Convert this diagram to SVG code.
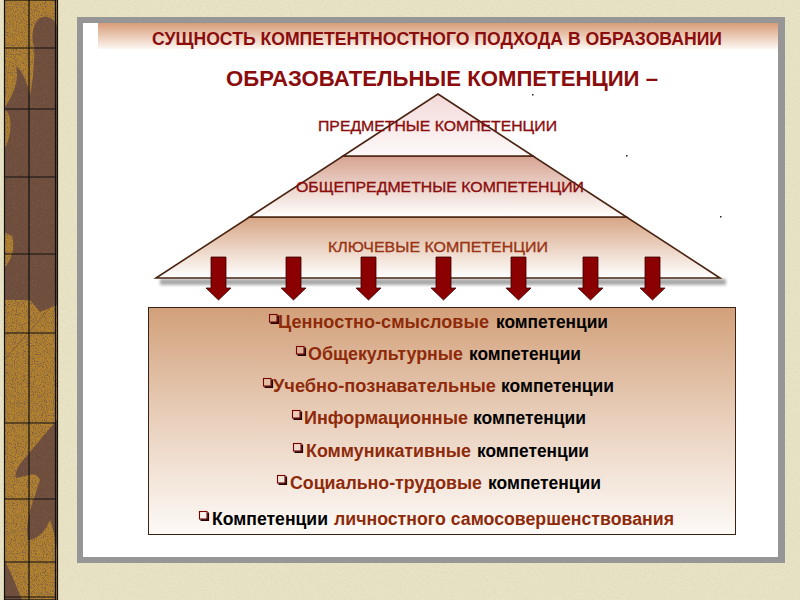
<svg xmlns="http://www.w3.org/2000/svg" width="800" height="600" viewBox="0 0 800 600">
<defs>
<style>
.t{font-family:"Liberation Sans",Arial,sans-serif;font-weight:bold}
.lay{font-family:"Liberation Sans",Arial,sans-serif;font-size:15px;stroke-width:0.35px}
.red{fill:#8b0c0c}
.brn{fill:#8e2a0a}
.blk{fill:#000}
.it{font-size:18px}
.bul{fill:none;stroke:#7a0000;stroke-width:1.1}
.bsh{fill:none;stroke:#2a0000;stroke-width:1.8}
.arr{fill:#8b0000;stroke:#3a0000;stroke-width:0.8}
.pyr{stroke:#4a2412;stroke-width:1.6;stroke-linejoin:miter}
.grid{stroke:#111;stroke-width:1.2;fill:none}
</style>
<linearGradient id="gTitle" x1="0" y1="0" x2="0" y2="1">
<stop offset="0" stop-color="#d79c78"/><stop offset="1" stop-color="#fdf7f2"/>
</linearGradient>
<linearGradient id="gTop" x1="0" y1="0" x2="0" y2="1">
<stop offset="0" stop-color="#f4d9d9"/><stop offset="1" stop-color="#fdf8f8"/>
</linearGradient>
<linearGradient id="gMid" x1="0" y1="0" x2="0" y2="1">
<stop offset="0" stop-color="#d6a391"/><stop offset="1" stop-color="#ffffff"/>
</linearGradient>
<linearGradient id="gBot" x1="0" y1="0" x2="0" y2="1">
<stop offset="0" stop-color="#d6a584"/><stop offset="1" stop-color="#ffffff"/>
</linearGradient>
<linearGradient id="gBox" x1="0" y1="0" x2="0" y2="1">
<stop offset="0" stop-color="#d2a07a"/><stop offset="0.5" stop-color="#e9d0bc"/><stop offset="1" stop-color="#fdfaf7"/>
</linearGradient>
<filter id="speck" x="0" y="0" width="1" height="1">
<feTurbulence type="fractalNoise" baseFrequency="0.9" numOctaves="2" seed="4" result="n"/>
<feColorMatrix in="n" type="matrix" values="0 0 0 0 0.18  0 0 0 0 0.1  0 0 0 0 0.06  3.2 0 0 0 -1.5"/>
<feComposite in2="SourceGraphic" operator="in"/>
</filter>
<filter id="paper" x="0" y="0" width="1" height="1">
<feTurbulence type="fractalNoise" baseFrequency="0.6" numOctaves="3" seed="7" result="n"/>
<feColorMatrix in="n" type="matrix" values="0 0 0 0 0.6  0 0 0 0 0.55  0 0 0 0 0.4  2 0 0 0 -0.9"/>
<feComposite in2="SourceGraphic" operator="in"/>
</filter>
<filter id="blur" x="-0.1" y="-1" width="1.2" height="3">
<feGaussianBlur stdDeviation="1.4"/>
</filter>
</defs>

<!-- background -->
<rect x="0" y="0" width="800" height="600" fill="#e8e3c5"/>
<rect x="0" y="0" width="800" height="600" fill="#000" filter="url(#paper)" opacity="0.35"/>

<!-- left decorative strip -->
<g id="strip">
<rect x="4" y="0" width="53" height="600" fill="#b3822f"/>
<path d="M40 18 C48 14 57 20 57 28 L57 305 L40 312 L30 300 L4 300 L4 268 C10 262 16 250 12 236 L4 232 L4 150 C10 140 14 120 6 110 L4 108 C12 98 20 80 16 66 C22 70 28 84 30 96 C33 80 35 62 34 46 C30 36 34 22 40 18 Z" fill="#6e4c3c"/>
<path d="M57 420 C48 430 40 440 30 452 C24 460 14 468 16 478 C28 476 36 470 40 480 C34 500 24 520 28 540 C38 540 46 530 50 520 C54 530 56 545 57 548 Z" fill="#6e4c3c"/>
<path d="M4 560 C10 570 16 585 22 600 L4 600 Z" fill="#6e4c3c"/>
<path d="M4 360 L57 300" stroke="#8a6030" stroke-width="1" fill="none"/>
<rect x="4" y="0" width="53" height="600" fill="#000" filter="url(#speck)"/>
<rect x="4.5" y="0" width="51" height="600" class="grid"/>
<line x1="57.5" y1="0" x2="57.5" y2="600" class="grid"/>
<line x1="29" y1="0" x2="29" y2="600" class="grid"/>
<path d="M4 48H56M4 109H56M4 177H56M4 254H56M4 333H56M4 423H56M4 499H56M4 562H56M4 597H56" class="grid"/>
</g>

<!-- slide panel -->
<g id="panel">
<rect x="77" y="17" width="708" height="546" fill="#969696"/>
<rect x="83" y="23" width="695" height="534" fill="#ffffff"/>
</g>

<!-- title -->
<g id="title">
<rect x="98" y="23" width="680" height="26" fill="url(#gTitle)"/>
<text class="t red" x="152" y="45" font-size="17.5" textLength="570" lengthAdjust="spacingAndGlyphs">СУЩНОСТЬ КОМПЕТЕНТНОСТНОГО ПОДХОДА В ОБРАЗОВАНИИ</text>
</g>
<g id="subtitle">
<text class="t red" x="226" y="86" font-size="21.5" textLength="432" lengthAdjust="spacingAndGlyphs">ОБРАЗОВАТЕЛЬНЫЕ КОМПЕТЕНЦИИ –</text>
</g>

<!-- pyramid -->
<rect x="160" y="279" width="566" height="6" fill="#a8a8a8" filter="url(#blur)"/>
<g id="layer-key">
<polygon class="pyr" points="249.5,217 626.5,217 720,278 156,278" fill="url(#gBot)"/>
<text class="lay" x="328" y="252" fill="#9a3414" stroke="#9a3414" textLength="220" lengthAdjust="spacingAndGlyphs">КЛЮЧЕВЫЕ КОМПЕТЕНЦИИ</text>
</g>
<g id="layer-general">
<polygon class="pyr" points="343,156 533,156 626.5,217 249.5,217" fill="url(#gMid)"/>
<text class="lay" x="296" y="192" fill="#8b0c0c" stroke="#8b0c0c" textLength="288" lengthAdjust="spacingAndGlyphs">ОБЩЕПРЕДМЕТНЫЕ КОМПЕТЕНЦИИ</text>
</g>
<g id="layer-subject">
<polygon class="pyr" points="438,94 533,156 343,156" fill="url(#gTop)"/>
<text class="lay" x="318" y="131" fill="#8b0c0c" stroke="#8b0c0c" textLength="239" lengthAdjust="spacingAndGlyphs">ПРЕДМЕТНЫЕ КОМПЕТЕНЦИИ</text>
</g>

<!-- stray dots -->
<g fill="#222">
<rect x="532" y="94" width="1.5" height="1.5"/>
<rect x="626" y="155" width="1.5" height="1.5"/>
<rect x="720" y="216" width="1.5" height="1.5"/>
</g>

<!-- arrows -->
<g id="connectors">
<polygon class="arr" points="211,257 226,257 226,288 231,288 218.5,300 206,288 211,288"/>
<polygon class="arr" points="286,257 301,257 301,288 306,288 293.5,300 281,288 286,288"/>
<polygon class="arr" points="361,257 376,257 376,288 381,288 368.5,300 356,288 361,288"/>
<polygon class="arr" points="436,257 451,257 451,288 456,288 443.5,300 431,288 436,288"/>
<polygon class="arr" points="511,257 526,257 526,288 531,288 518.5,300 506,288 511,288"/>
<polygon class="arr" points="583,257 598,257 598,288 603,288 590.5,300 578,288 583,288"/>
<polygon class="arr" points="645,257 660,257 660,288 665,288 652.5,300 640,288 645,288"/>
</g>

<!-- competences box -->
<g id="box">
<rect x="148.5" y="307.5" width="587" height="227" fill="url(#gBox)" stroke="#3a2214" stroke-width="1"/>
</g>

<g id="item1" class="t it">
<rect class="bul" x="269.5" y="314.5" width="7.5" height="7.5"/><path class="bsh" d="M278.2 315.5V323.2H270.5"/>
<text class="brn" x="278" y="328" textLength="211" lengthAdjust="spacingAndGlyphs">Ценностно-смысловые</text>
<text class="blk" x="496" y="328" textLength="112" lengthAdjust="spacingAndGlyphs">компетенции</text>
</g>
<g id="item2" class="t it">
<rect class="bul" x="296.5" y="346.5" width="7.5" height="7.5"/><path class="bsh" d="M305.2 347.5V355.2H297.5"/>
<text class="brn" x="308" y="360" textLength="155" lengthAdjust="spacingAndGlyphs">Общекультурные</text>
<text class="blk" x="469" y="360" textLength="112" lengthAdjust="spacingAndGlyphs">компетенции</text>
</g>
<g id="item3" class="t it">
<rect class="bul" x="263.5" y="378.5" width="7.5" height="7.5"/><path class="bsh" d="M272.2 379.5V387.2H264.5"/>
<text class="brn" x="273" y="392" textLength="223" lengthAdjust="spacingAndGlyphs">Учебно-познавательные</text>
<text class="blk" x="501" y="392" textLength="113" lengthAdjust="spacingAndGlyphs">компетенции</text>
</g>
<g id="item4" class="t it">
<rect class="bul" x="292.5" y="410.5" width="7.5" height="7.5"/><path class="bsh" d="M301.2 411.5V419.2H293.5"/>
<text class="brn" x="304" y="424" textLength="164" lengthAdjust="spacingAndGlyphs">Информационные</text>
<text class="blk" x="473" y="424" textLength="113" lengthAdjust="spacingAndGlyphs">компетенции</text>
</g>
<g id="item5" class="t it">
<rect class="bul" x="293.5" y="443.5" width="7.5" height="7.5"/><path class="bsh" d="M302.2 444.5V452.2H294.5"/>
<text class="brn" x="306" y="457" textLength="165" lengthAdjust="spacingAndGlyphs">Коммуникативные</text>
<text class="blk" x="477" y="457" textLength="112" lengthAdjust="spacingAndGlyphs">компетенции</text>
</g>
<g id="item6" class="t it">
<rect class="bul" x="277.5" y="475.5" width="7.5" height="7.5"/><path class="bsh" d="M286.2 476.5V484.2H278.5"/>
<text class="brn" x="290" y="489" textLength="192" lengthAdjust="spacingAndGlyphs">Социально-трудовые</text>
<text class="blk" x="488" y="489" textLength="113" lengthAdjust="spacingAndGlyphs">компетенции</text>
</g>
<g id="item7" class="t it">
<rect class="bul" x="199.5" y="511.5" width="7.5" height="7.5"/><path class="bsh" d="M208.2 512.5V520.2H200.5"/>
<text class="blk" x="212" y="525" textLength="116" lengthAdjust="spacingAndGlyphs">Компетенции</text>
<text class="brn" x="334" y="525" textLength="340" lengthAdjust="spacingAndGlyphs">личностного самосовершенствования</text>
</g>
</svg>
